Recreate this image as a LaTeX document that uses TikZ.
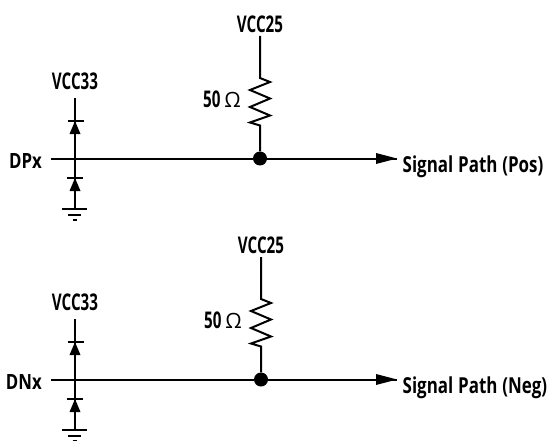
\documentclass[tikz,border=0pt]{standalone}
\usepackage{fontspec}
\setmainfont[FakeStretch=0.66]{Open Sans Bold}
\newfontfamily\sigfont[FakeStretch=0.77,WordSpace=1.1]{Open Sans Bold}
\newfontfamily\namefont[FakeStretch=0.8]{Open Sans Bold}
\newfontfamily\omegafont{Open Sans}
\begin{document}
\begin{tikzpicture}[x=1pt,y=-1pt,
  wire/.style={line width=2pt,black},
  lab/.style={font=\fontsize{23}{25}\selectfont,inner sep=0pt,text=black},
  siglab/.style={font=\sigfont\fontsize{22}{24}\selectfont,inner sep=0pt,text=black},
  namelab/.style={font=\namefont\fontsize{21}{24}\selectfont,inner sep=0pt,text=black},
  dot/.style={circle,fill=black,inner sep=0pt,minimum size=14pt},
  tip/.style={fill=black,draw=none}]
\useasboundingbox (0,0) rectangle (551,441);
\foreach \s/\dy/\nm/\sg/\jx in {p/0/DPx/Pos/260,n/221/DNx/Neg/261}{
\begin{scope}[yshift=-\dy pt]
  % main line
  \coordinate (in\s) at (51,158.5);
  \node[dot] (j\s) at (\jx,158.5) {};
  \coordinate (out\s) at (397,158.5);
  \node[namelab,anchor=east] (t\s) at (42,161) {\nm};
  \node[siglab,anchor=west] (sp\s) at (402.5,167) {Signal Path (\sg)};
  \draw[wire] (in\s) -- (j\s);
  \draw[wire] (j\s) -- (out\s);
  \fill[tip] (out\s) -- ++(-21,-5.5) -- ++(0,11) -- cycle;
  % resistor
  \node[lab] (vb\s) at (\jx,24) {VCC25};
  \coordinate (rt\s) at (\jx,36);
  \draw[wire,line join=miter] (rt\s) -- (\jx,78)
    -- ++(10,4) -- ++(-20,8) -- ++(20,8.5) -- ++(-20,8.5) -- ++(20,8.5) -- ++(-20,7) -- ++(10,3)
    -- (j\s);
  \node[lab,anchor=east] (r\s) at (\jx-19,99) {50\,{\omegafont\fontsize{21}{21}\selectfont Ω}};
  % clamp diodes
  \node[lab] (va\s) at (75,81) {VCC33};
  \coordinate (dt\s) at (75,98);
  \coordinate (gnd\s) at (75,209);
  \draw[wire] (dt\s) -- (gnd\s);
  \draw[wire] (67.5,121) -- (83.5,121);
  \fill[tip] (75,121) -- (69.5,134) -- (80.5,134) -- cycle;
  \draw[wire] (67,178) -- (83,178);
  \fill[tip] (75,178) -- (69.5,191) -- (80.5,191) -- cycle;
  \draw[wire] (62,209) -- (87,209);
  \draw[wire] (68,214.5) -- (81,214.5);
  \draw[wire] (72.5,220) -- (77,220);
\end{scope}
}
\end{tikzpicture}
\end{document}
